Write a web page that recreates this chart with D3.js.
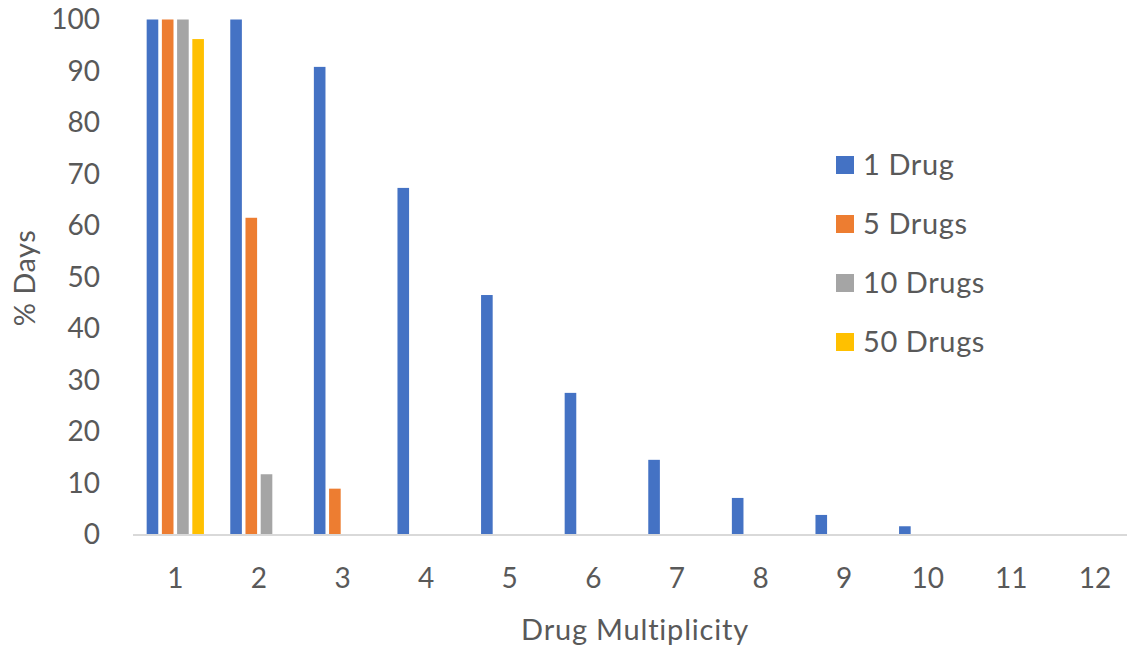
<!DOCTYPE html>
<html><head><meta charset="utf-8">
<script src="https://cdn.jsdelivr.net/npm/d3@7"></script>
<style>body{margin:0;background:#fff;} svg{display:block;} text{font-family:Lato,"Open Sans",sans-serif;fill:#595959;}</style>
</head><body>
<svg id="c" width="1127" height="648"></svg>
<script>
const categories = ["1","2","3","4","5","6","7","8","9","10","11","12"];
const seriesNames = ["1 Drug","5 Drugs","10 Drugs","50 Drugs"];
const colors = ["#4472C4","#ED7D31","#A5A5A5","#FFC000"];
const drug1  = [100, 100, 90.8, 67.3, 46.5, 27.5, 14.5, 7.1, 3.8, 1.6, 0, 0];
const drug5  = [100, 61.5, 8.9, 0, 0, 0, 0, 0, 0, 0, 0, 0];
const drug10 = [100, 11.7, 0, 0, 0, 0, 0, 0, 0, 0, 0, 0];
const drug50 = [96.2, 0, 0, 0, 0, 0, 0, 0, 0, 0, 0, 0];
const yTicks = [0,10,20,30,40,50,60,70,80,90,100];
const series = [drug1, drug5, drug10, drug50];

const svg = d3.select("#c");
const x0 = d3.scaleBand().domain(categories).range([133.5, 1136.7]).paddingInner(0.315).paddingOuter(0.1575);
const x1 = d3.scaleBand().domain(seriesNames).range([0, x0.bandwidth()]).paddingInner(0.237);
const y = d3.scaleLinear().domain([0,100]).range([534.5, 19.5]);

const g = svg.append("g");
seriesNames.forEach((s, si) => {
  g.selectAll(".b"+si).data(categories).enter().append("rect")
    .attr("x", d => x0(d) + x1(s))
    .attr("width", x1.bandwidth())
    .attr("y", (d,i) => y(series[si][i]))
    .attr("height", (d,i) => y(0) - y(series[si][i]))
    .attr("fill", colors[si]);
});

svg.append("line").attr("x1", 133).attr("x2", 1127).attr("y1", y(0)+0.5).attr("y2", y(0)+0.5)
  .attr("stroke", "#d9d9d9").attr("stroke-width", 2);

svg.selectAll(".yt").data(yTicks).enter().append("text")
  .attr("x", 100).attr("y", d => y(d)).attr("dy", "0.35em")
  .attr("text-anchor", "end").style("font-size", "28px").text(d => d);

svg.selectAll(".xt").data(categories).enter().append("text")
  .attr("x", d => x0(d) + x0.bandwidth()/2).attr("y", 578).attr("dy", "0.35em")
  .attr("text-anchor", "middle").style("font-size", "28px").text(d => d);

svg.append("text").attr("x", 635).attr("y", 630).attr("dy", "0.35em").attr("text-anchor", "middle")
  .style("font-size", "29px").style("letter-spacing", "0.8px").text("Drug Multiplicity");
svg.append("text").attr("transform", "translate(25,278) rotate(-90)").attr("dy", "0.35em")
  .attr("text-anchor", "middle").style("font-size", "29px").style("letter-spacing", "0.5px").text("% Days");

const lg = svg.append("g");
seriesNames.forEach((s, i) => {
  const cy = 165 + i*59;
  lg.append("rect").attr("x", 836).attr("y", cy-9).attr("width", 18).attr("height", 18).attr("fill", colors[i]);
  lg.append("text").attr("x", 863).attr("y", cy).attr("dy", "0.35em").style("font-size", "29px")
    .style("letter-spacing", "0.6px").text(s);
});
</script>
</body></html>
